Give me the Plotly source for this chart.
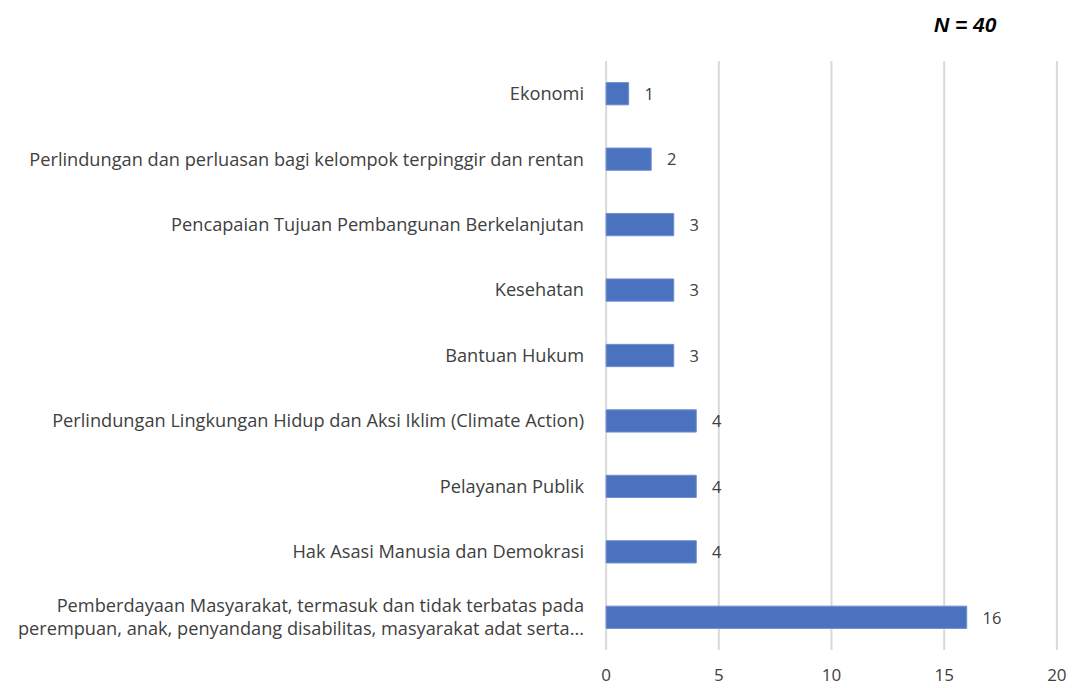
import plotly.graph_objects as go

categories = [
    "Ekonomi",
    "Perlindungan dan perluasan bagi kelompok terpinggir dan rentan",
    "Pencapaian Tujuan Pembangunan Berkelanjutan",
    "Kesehatan",
    "Bantuan Hukum",
    "Perlindungan Lingkungan Hidup dan Aksi Iklim (Climate Action)",
    "Pelayanan Publik",
    "Hak Asasi Manusia dan Demokrasi",
    "Pemberdayaan Masyarakat, termasuk dan tidak terbatas pada<br>perempuan, anak, penyandang disabilitas, masyarakat adat serta...",
]
values = [1, 2, 3, 3, 3, 4, 4, 4, 16]
x_ticks = [0, 5, 10, 15, 20]
note = "N = 40"

FONT = "Open Sans, Liberation Sans, sans-serif"
GRAY = "#404040"
GRID = "#D9D9D9"

# page body has an 8px default margin, so the figure is drawn 8px in from the corner
W, H = 1068, 680
L, R, T, B = 597, 18, 53, 38

fig = go.Figure(
    go.Bar(
        x=values,
        y=categories,
        orientation="h",
        marker=dict(color="#4A72BE", line=dict(color="#6F8FD0", width=1)),
        width=0.34,
        text=values,
        texttemplate="   %{x}",
        textposition="outside",
        textfont=dict(family=FONT, size=17, color=GRAY),
        cliponaxis=False,
    )
)

# vertical grid lines at each tick (including the 0 and 20 edges)
grid_shapes = [
    dict(type="line", xref="x", yref="paper", x0=t, x1=t, y0=0, y1=1,
         line=dict(color=GRID, width=2), layer="below")
    for t in x_ticks
]

fig.update_layout(
    width=W,
    height=H,
    margin=dict(l=L, r=R, t=T, b=B, autoexpand=False),
    paper_bgcolor="white",
    plot_bgcolor="white",
    showlegend=False,
    font=dict(family=FONT, size=18, color=GRAY),
    shapes=grid_shapes,
    xaxis=dict(
        range=[-0.05, 20.05],
        tickvals=x_ticks,
        showgrid=False,
        zeroline=False,
        showline=False,
        ticks="",
        automargin=False,
        ticklabelstandoff=13,
        tickfont=dict(family=FONT, size=17, color=GRAY),
    ),
    yaxis=dict(
        autorange="reversed",
        showgrid=False,
        zeroline=False,
        showline=False,
        ticks="",
        automargin=False,
        ticklabelstandoff=20,
        tickfont=dict(family=FONT, size=18.2, color=GRAY),
    ),
    annotations=[
        dict(
            text="<b><i>" + note + "</i></b>",
            xref="paper", yref="paper",
            x=(998 - 8 - L) / (W - L - R), y=1,
            xanchor="right", yanchor="bottom",
            yshift=24,
            borderpad=0,
            showarrow=False,
            font=dict(family="Liberation Sans, Arial, sans-serif", size=21, color="black"),
        )
    ],
)

fig.write_html("out.html")
